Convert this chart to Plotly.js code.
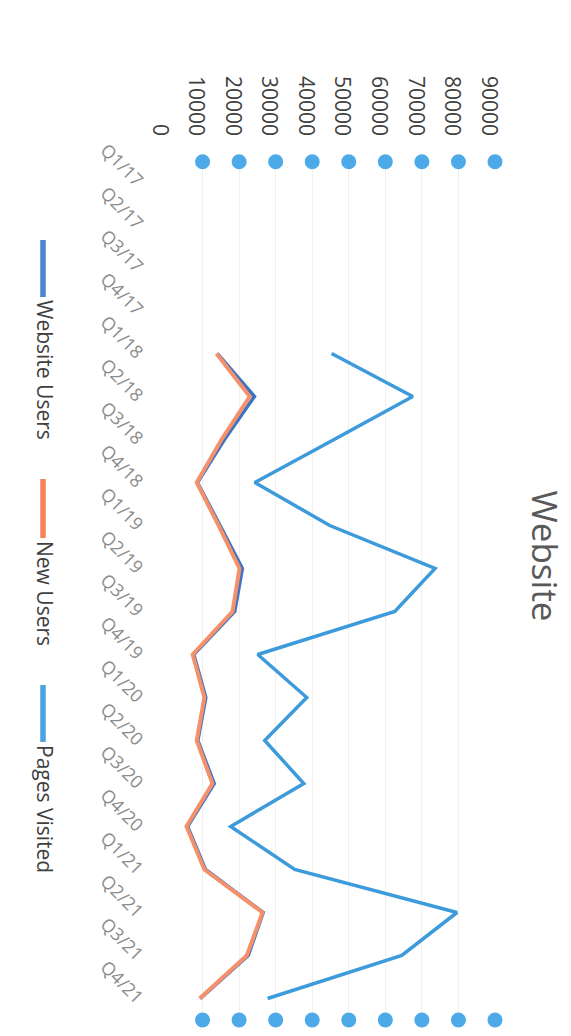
<!DOCTYPE html>
<html>
<head>
<meta charset="utf-8">
<script src="https://cdn.plot.ly/plotly-3.0.1.min.js"></script>
<style>
  html, body { margin: 0; padding: 0; background: #ffffff; overflow: hidden; width: 571px; height: 1036px; }
  #wrap { position: absolute; left: 0; top: 0; width: 1036px; height: 571px;
          transform-origin: 0 0; transform: translateX(571px) rotate(90deg); }
  #chart { width: 1036px; height: 571px; }
</style>
</head>
<body>
<div id="wrap"><div id="chart"></div></div>
<script>
// ---- data ----
const categories = ["Q1/17","Q2/17","Q3/17","Q4/17","Q1/18","Q2/18","Q3/18","Q4/18",
                    "Q1/19","Q2/19","Q3/19","Q4/19","Q1/20","Q2/20","Q3/20","Q4/20",
                    "Q1/21","Q2/21","Q3/21","Q4/21"];
const seriesNames = ["Website Users", "New Users", "Pages Visited"];
const websiteUsers = [null,null,null,null,14000,24200,16000,8600,14800,20900,18800,7600,
                      10900,8700,13200,5900,10800,26600,22500,9400];
const newUsers     = [null,null,null,null,13800,22900,15200,8400,14400,20100,18200,7300,
                      10500,8400,12700,5600,10500,26400,22100,9200];
const pagesVisited = [null,null,null,null,45300,67500,46000,24300,44800,73600,62600,25100,
                      38500,27000,37700,17700,35200,79600,64500,27800];
const valueTicks = [0,10000,20000,30000,40000,50000,60000,70000,80000,90000];
const seriesColors = ["#3F73C4", "#F4916A", "#3D9BDB"];
const legendColors = ["#4A86D0", "#F58357", "#4BA3E0"];

// ---- layout helpers (pixel geometry of the landscape chart) ----
const W = 1036, H = 571;
const M = {l: 160, r: 16, t: 76, b: 166};
const plotW = W - M.l - M.r, plotH = H - M.t - M.b;
const px = X => (X - M.l) / plotW;          // pixel X -> paper x
const py = Y => (H - M.b - Y) / plotH;      // pixel Y -> paper y
const yMax = valueTicks[valueTicks.length - 1];

const seriesData = [websiteUsers, newUsers, pagesVisited];
const widths = [3.5, 4, 3.5];
const traces = seriesData.map((vals, i) => ({
  type: "scatter", mode: "lines", name: seriesNames[i],
  x: categories, y: vals,
  line: {color: seriesColors[i], width: widths[i]},
  connectgaps: false, showlegend: false, hoverinfo: "skip"
}));

// dots at both ends of each value gridline
const shapes = [];
valueTicks.filter(v => v > 0).forEach(v => {
  [0.002, 1].forEach(xp => {
    shapes.push({type: "circle", xref: "paper", yref: "paper",
      xsizemode: "pixel", ysizemode: "pixel", xanchor: xp, yanchor: v / yMax,
      x0: -7.5, x1: 7.5, y0: -7.5, y1: 7.5,
      fillcolor: "#4DAAE8", line: {width: 0}, layer: "above"});
  });
});

// manual legend
const legLines = [[240, 297], [479, 538], [685, 742]];
const legendY = 528;
const annotations = [];
seriesNames.forEach((n, i) => {
  shapes.push({type: "line", xref: "paper", yref: "paper",
    x0: px(legLines[i][0]), x1: px(legLines[i][1]), y0: py(legendY), y1: py(legendY),
    line: {color: legendColors[i], width: 5.5}});
  annotations.push({xref: "paper", yref: "paper", x: px(legLines[i][1] + 1), y: py(legendY - 2),
    xanchor: "left", yanchor: "middle", showarrow: false, text: n,
    font: {family: "Open Sans, sans-serif", size: 21, color: "#404040"}});
});

const layout = {
  width: W, height: H,
  margin: M,
  paper_bgcolor: "#ffffff", plot_bgcolor: "#ffffff",
  title: {text: "Website", xref: "container", yref: "container",
          x: 556 / W, xanchor: "center", y: 1 - 27 / H, yanchor: "middle",
          font: {family: "Open Sans, sans-serif", size: 35, color: "#595959"}},
  showlegend: false,
  xaxis: {type: "category", categoryorder: "array", categoryarray: categories,
          range: [-0.5, categories.length - 0.5],
          tickangle: -45, showgrid: false, zeroline: false, showline: false, ticks: "",
          ticklabelstandoff: 14,
          tickfont: {family: "Open Sans, sans-serif", size: 18, color: "#8c8c8c"}},
  yaxis: {range: [0, yMax], tickvals: valueTicks, ticktext: valueTicks.map(String),
          showgrid: true, gridcolor: "#f0f0f0", gridwidth: 1, zeroline: false,
          showline: false, ticks: "", ticklabelstandoff: 23, ticklabelshift: 6,
          tickfont: {family: "Open Sans, sans-serif", size: 21, color: "#404040"}},
  shapes: shapes,
  annotations: annotations
};

Plotly.newPlot("chart", traces, layout, {displayModeBar: false, staticPlot: true});
</script>
</body>
</html>
